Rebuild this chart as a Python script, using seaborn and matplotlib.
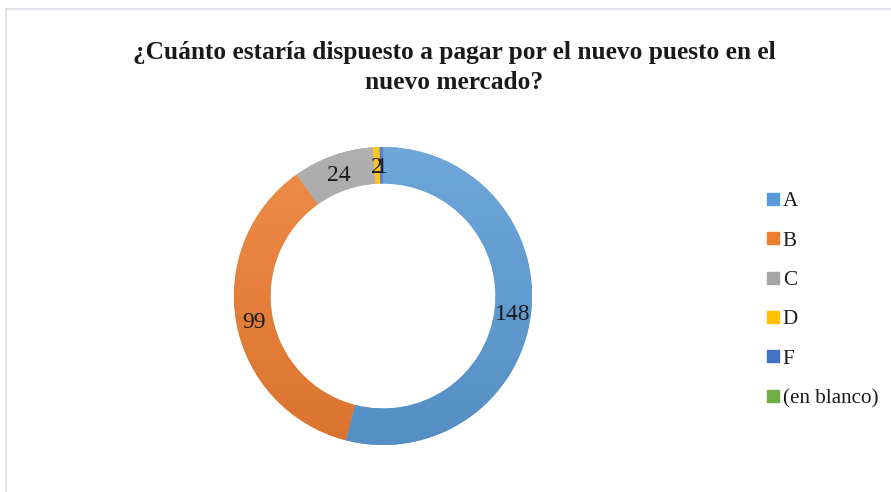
import numpy as np
import matplotlib
matplotlib.use("Agg")
import matplotlib.pyplot as plt
import matplotlib.colors as mcolors
from matplotlib.patches import Rectangle
from matplotlib.lines import Line2D
import seaborn as sns

categories = ["A", "B", "C", "D", "F", "(en blanco)"]
values = [148, 99, 24, 2, 1, 0]
title = "¿Cuánto estaría dispuesto a pagar por el nuevo puesto en el\nnuevo mercado?"

colors = ["#5B9BD5", "#ED7D31", "#A5A5A5", "#FFC000", "#4472C4", "#70AD47"]

sns.set_theme(style="white")
plt.rcParams["font.family"] = ["Liberation Serif", "DejaVu Serif"]

W, H = 891, 492
fig = plt.figure(figsize=(W / 100, H / 100), dpi=100)
fig.patch.set_facecolor("white")

# chart border
fig.add_artist(Rectangle((6 / W, -0.1), 1.2, (H - 9) / H + 0.1, transform=fig.transFigure,
                         fill=False, edgecolor="#D9DEE6", linewidth=1.2))

cx, cy, R = 383, H - 296, 149
ax = fig.add_axes([(cx - R) / W, (cy - R) / H, 2 * R / W, 2 * R / H])
width = 0.245
wedges, _ = ax.pie(values, colors=colors, startangle=90, counterclock=False,
                   radius=1.0, wedgeprops=dict(width=width, linewidth=0))
ax.set_aspect("equal")
ax.axis("off")


def shade(c, f):
    r, g, b = mcolors.to_rgb(c)
    if f >= 0:
        return (r + (1 - r) * f, g + (1 - g) * f, b + (1 - b) * f)
    return (r * (1 + f), g * (1 + f), b * (1 + f))


N = 256
for w, c in zip(wedges, colors):
    t = np.linspace(0, 1, N)
    top = np.array(shade(c, 0.12))
    bot = np.array(shade(c, -0.08))
    grad = top[None, :] * (1 - t[:, None]) + bot[None, :] * t[:, None]
    img = grad[:, None, :]
    im = ax.imshow(img, extent=(-1, 1, -1, 1), origin="upper", aspect="auto", zorder=2)
    im.set_clip_path(w)
ax.set_xlim(-1, 1)
ax.set_ylim(-1, 1)

rmid = 1 - width / 2
for w, v in zip(wedges, values):
    if v == 0:
        continue
    ang = np.deg2rad((w.theta1 + w.theta2) / 2)
    ax.text(rmid * np.cos(ang), rmid * np.sin(ang), str(v), ha="center", va="center_baseline",
            fontsize=17, color="#1a1a1a", zorder=5)

fig.text(454 / W, (H - 67.5) / H, title, ha="center", va="center", fontsize=18.3,
         fontweight="bold", color="#1a1a1a", linespacing=1.38)

handles = [Line2D([], [], marker="s", linestyle="none", markersize=8.5,
                  markerfacecolor=c, markeredgecolor=c) for c in colors]
fig.legend(handles, categories, loc="upper left", bbox_to_anchor=(757 / W, (H - 183) / H),
           frameon=False, fontsize=15.2, handlelength=0.7, handletextpad=0.12,
           labelspacing=0.93, borderaxespad=0, labelcolor="#1a1a1a")

fig.savefig("out.png", dpi=100)
